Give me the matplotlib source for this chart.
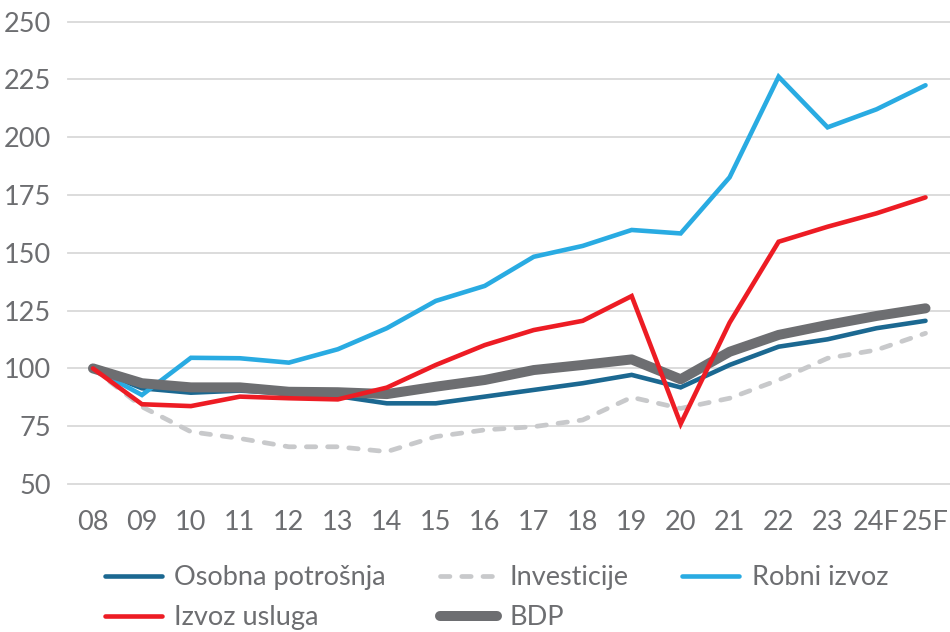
import matplotlib
matplotlib.use("Agg")
import matplotlib.pyplot as plt

plt.rcParams['font.family'] = ['Lato', 'DejaVu Sans']

years = ["08", "09", "10", "11", "12", "13", "14", "15", "16", "17", "18",
         "19", "20", "21", "22", "23", "24F", "25F"]
osobna = [100, 91.4, 89.5, 90.4, 89.2, 88.0, 84.9, 84.9, 87.8, 90.7, 93.6,
          97.2, 91.8, 101.5, 109.4, 112.6, 117.4, 120.6]
investicije = [100, 83.4, 72.6, 69.7, 66.1, 66.1, 64.0, 70.5, 73.4, 74.8, 77.7,
               87.5, 82.7, 87.1, 95.0, 104.4, 108.0, 115.2]
robni = [100, 88.5, 104.6, 104.4, 102.5, 108.3, 117.4, 129.2, 135.7, 148.3, 153.0,
         159.9, 158.4, 182.7, 226.2, 204.3, 212.1, 222.5]
usluge = [100, 84.5, 83.7, 87.8, 87.1, 86.6, 91.7, 101.5, 110.1, 116.6, 120.6,
          131.3, 76.0, 119.8, 154.8, 161.3, 167.1, 174.0]
bdp = [100, 93.6, 91.8, 91.8, 89.9, 89.7, 88.9, 92.1, 95.0, 99.3, 101.5,
       103.9, 95.3, 107.2, 114.5, 118.8, 122.7, 126.0]
yticks = [50, 75, 100, 125, 150, 175, 200, 225, 250]

TXT = "#6d6e71"
C_OS = "#1b6891"
C_INV = "#c8c9cb"
C_ROB = "#29abe2"
C_USL = "#ed1c24"
C_BDP = "#6d6e71"

fig = plt.figure(figsize=(9.5, 6.32), dpi=100)
ax = fig.add_axes([68 / 950, 1 - 484 / 632, 1 - 68 / 950, (484 - 21.7) / 632])

x = list(range(len(years)))
l_inv, = ax.plot(x, investicije, color=C_INV, lw=3.4, ls=(0, (2.0, 2.5)),
                 dash_capstyle='round', solid_capstyle='round', zorder=2, label="Investicije")
l_os, = ax.plot(x, osobna, color=C_OS, lw=3.3, solid_capstyle='round',
                solid_joinstyle='miter', zorder=3, label="Osobna potrošnja")
l_rob, = ax.plot(x, robni, color=C_ROB, lw=3.3, solid_capstyle='round',
                 solid_joinstyle='miter', zorder=4, label="Robni izvoz")
l_bdp, = ax.plot(x, bdp, color=C_BDP, lw=7.2, solid_capstyle='round',
                 solid_joinstyle='round', zorder=5, label="BDP")
l_usl, = ax.plot(x, usluge, color=C_USL, lw=3.3, solid_capstyle='round',
                 solid_joinstyle='miter', zorder=6, label="Izvoz usluga")

ax.set_xlim(-0.51, 17.5)
ax.set_ylim(50, 250)
ax.set_yticks(yticks)
ax.set_xticks(x)
ax.set_xticklabels(years)
ax.grid(axis='y', color='#d9d9d9', lw=1.3, zorder=0)
ax.set_axisbelow(True)
for s in ax.spines.values():
    s.set_visible(False)
ax.tick_params(axis='both', length=0, labelsize=19.5, colors=TXT)
ax.tick_params(axis='y', pad=12)
ax.tick_params(axis='x', pad=19)
for gl in ax.get_ygridlines():
    gl.set_clip_on(False)

handles = [l_os, l_usl, l_inv, l_bdp, l_rob]
labels = [h.get_label() for h in handles]
leg = fig.legend(handles, labels, ncol=3, loc='upper left',
                 bbox_to_anchor=(81 / 950, 1 - 541 / 632), frameon=False,
                 fontsize=19.5, handlelength=2.1, handletextpad=0.45,
                 columnspacing=2.0, labelspacing=0.55, labelcolor=TXT)

fig.savefig("out.png", dpi=100)
